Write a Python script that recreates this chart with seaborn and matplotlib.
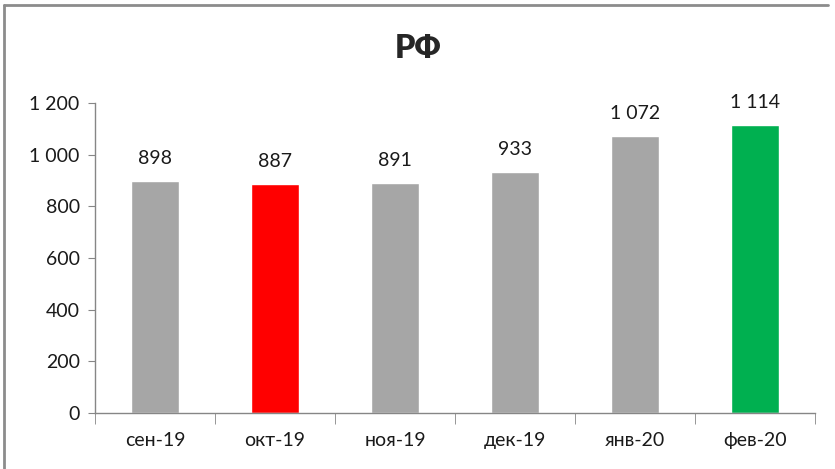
import matplotlib.pyplot as plt
import matplotlib.ticker as mticker
from matplotlib.lines import Line2D
import pandas as pd
import seaborn as sns

months = ["сен-19", "окт-19", "ноя-19", "дек-19", "янв-20", "фев-20"]
values = [898, 887, 891, 933, 1072, 1114]
bar_colors = ["#A6A6A6", "#FF0000", "#A6A6A6", "#A6A6A6", "#A6A6A6", "#00B050"]
title = "РФ"


def fmt_num(v):
    return f"{int(v):,}".replace(",", " ")


def plot_bars(data):
    sns.set_style("white")
    plt.rcParams["font.family"] = ["Lato", "DejaVu Sans"]

    fig = plt.figure(figsize=(8.35, 4.69), dpi=100)
    ax = fig.add_axes([95 / 835, 1 - 413 / 469, 720 / 835, 310 / 469])

    sns.barplot(data=data, x="month", y="value", hue="month",
                palette=bar_colors, width=0.4, legend=False, ax=ax, saturation=1)

    ax.set_ylim(0, 1200)
    ax.set_xlim(-0.5, len(months) - 0.5)
    ax.yaxis.set_major_locator(mticker.MultipleLocator(200))
    ax.yaxis.set_major_formatter(mticker.FuncFormatter(lambda v, p: fmt_num(v)))
    ax.set_xlabel("")
    ax.set_ylabel("")

    for s in ["top", "right"]:
        ax.spines[s].set_visible(False)
    for s in ["left", "bottom"]:
        ax.spines[s].set_color("#868686")
        ax.spines[s].set_linewidth(1)

    ax.tick_params(axis="y", length=5, color="#868686", labelsize=14,
                   labelcolor="#1A1A1A", pad=6, left=True)
    ax.set_xticks(range(len(months)))
    ax.set_xticklabels(months)
    ax.tick_params(axis="x", which="major", length=0, labelsize=14,
                   labelcolor="#1A1A1A", pad=14)
    ax.set_xticks([i - 0.5 for i in range(len(months) + 1)], minor=True)
    ax.tick_params(axis="x", which="minor", length=8, color="#868686",
                   bottom=True)

    for i, v in enumerate(data["value"]):
        ax.annotate(fmt_num(v), (i, v), xytext=(0, 10), textcoords="offset points",
                    ha="center", va="bottom", fontsize=14, color="#1A1A1A")

    fig.text(418 / 835, 1 - 48 / 469, title, ha="center", va="center",
             fontsize=23, fontweight="heavy")

    # outer chart frame (left and top edges visible)
    fig.add_artist(Line2D([4 / 835, 4 / 835], [0, 1 - 5 / 469],
                          transform=fig.transFigure, color="#8C8C8C", lw=2))
    fig.add_artist(Line2D([4 / 835, 828 / 835], [1 - 5 / 469, 1 - 5 / 469],
                          transform=fig.transFigure, color="#8C8C8C", lw=2))

    fig.savefig("out.png", dpi=100)


df = pd.DataFrame({"month": months, "value": values})
plot_bars(df)
